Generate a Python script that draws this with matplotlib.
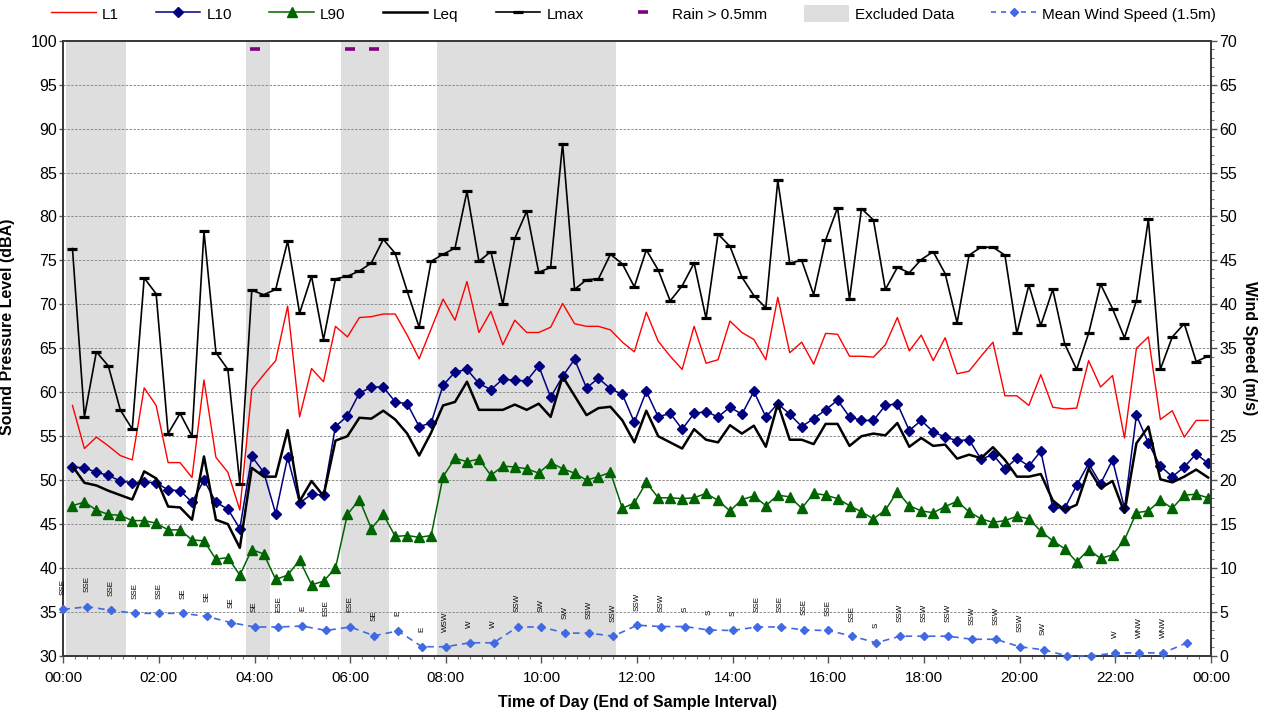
import numpy as np
import matplotlib.pyplot as plt
from matplotlib.ticker import MultipleLocator
from matplotlib.patches import Patch
from matplotlib.lines import Line2D

plt.rcParams['font.family'] = ['Liberation Sans', 'DejaVu Sans']

# 15 minute sound level statistics (dBA), first interval ending 00:11
first_end_min = 11.5
interval_min = 15

L1 = [58.5, 53.6, 54.9, 53.9, 52.8, 52.3, 60.5, 58.5, 52.0, 52.0,
      50.3, 61.4, 52.6, 50.9, 46.6, 60.3, 62.0, 63.6, 69.8, 57.2,
      62.7, 61.2, 67.5, 66.3, 68.5, 68.6, 68.9, 68.9, 66.5, 63.8,
      67.2, 70.6, 68.2, 72.6, 66.8, 69.2, 65.4, 68.2, 66.8, 66.8,
      67.4, 70.1, 67.8, 67.5, 67.5, 67.1, 65.7, 64.6, 69.1, 65.8,
      64.1, 62.6, 67.5, 63.3, 63.7, 68.1, 66.8, 66.0, 63.7, 70.8,
      64.5, 65.7, 63.2, 66.7, 66.6, 64.1, 64.1, 64.0, 65.4, 68.5,
      64.7, 66.5, 63.6, 66.2, 62.1, 62.4, 64.1, 65.7, 59.6, 59.6,
      58.5, 62.0, 58.3, 58.1, 58.2, 63.6, 60.6, 61.9, 54.8, 65.0,
      66.3, 56.9, 57.9, 54.9, 56.8, 56.8]

L10 = [51.5, 51.4, 50.9, 50.55, 49.9, 49.7, 49.8, 49.7, 48.9, 48.8,
       47.5, 50.0, 47.5, 46.7, 44.5, 52.7, 50.9, 46.2, 52.6, 47.4,
       48.4, 48.3, 56.1, 57.3, 59.9, 60.6, 60.6, 58.9, 58.7, 56.1,
       56.5, 60.8, 62.3, 62.6, 61.0, 60.3, 61.5, 61.35, 61.3, 63.0,
       59.45, 61.8, 63.75, 60.5, 61.6, 60.4, 59.75, 56.6, 60.1, 57.2,
       57.6, 55.8, 57.6, 57.8, 57.2, 58.3, 57.5, 60.1, 57.2, 58.7,
       57.5, 56.1, 57.0, 58.0, 59.1, 57.2, 56.8, 56.8, 58.5, 58.7,
       55.65, 56.8, 55.5, 54.9, 54.5, 54.6, 52.4, 52.9, 51.3, 52.5,
       51.6, 53.3, 46.9, 46.8, 49.4, 51.9, 49.6, 52.3, 46.8, 57.4,
       54.2, 51.6, 50.4, 51.5, 53.0, 51.9]

L90 = [47.1, 47.5, 46.6, 46.1, 46.0, 45.4, 45.4, 45.1, 44.35, 44.35,
       43.2, 43.1, 41.0, 41.2, 39.2, 42.1, 41.6, 38.7, 39.2, 40.9,
       38.1, 38.5, 40.0, 46.1, 47.8, 44.5, 46.1, 43.6, 43.7, 43.5,
       43.7, 50.4, 52.5, 52.1, 52.4, 50.55, 51.6, 51.5, 51.3, 50.8,
       52.0, 51.3, 50.8, 50.0, 50.4, 50.9, 46.8, 47.4, 49.75, 48.0,
       48.0, 47.9, 48.0, 48.5, 47.7, 46.5, 47.8, 48.2, 47.1, 48.3,
       48.1, 46.8, 48.5, 48.3, 47.9, 47.1, 46.4, 45.6, 46.6, 48.7,
       47.1, 46.5, 46.3, 47.0, 47.6, 46.4, 45.6, 45.2, 45.4, 45.9,
       45.6, 44.2, 43.1, 42.2, 40.7, 42.1, 41.1, 41.5, 43.2, 46.3,
       46.5, 47.7, 46.8, 48.3, 48.4, 48.0]

Leq = [51.6, 49.7, 49.4, 48.8, 48.3, 47.8, 51.0, 50.2, 47.0, 46.9,
       45.5, 52.7, 45.5, 45.0, 42.3, 51.4, 50.4, 50.4, 55.7, 47.6,
       49.9, 48.2, 54.5, 55.0, 57.1, 57.0, 57.9, 56.9, 55.3, 52.8,
       55.4, 58.5, 58.9, 61.2, 58.0, 58.0, 58.0, 58.6, 58.0, 58.7,
       57.2, 61.8, 59.6, 57.4, 58.2, 58.35, 56.8, 54.3, 57.9, 55.0,
       54.3, 53.6, 55.8, 54.6, 54.3, 56.25, 55.3, 56.2, 53.8, 58.7,
       54.6, 54.6, 54.1, 56.4, 56.4, 53.9, 55.0, 55.3, 55.1, 56.5,
       53.8, 54.8, 53.9, 54.05, 52.45, 52.9, 52.5, 53.75, 52.3, 50.4,
       50.4, 50.7, 47.7, 46.6, 47.2, 51.3, 49.1, 49.9, 46.3, 54.2,
       56.1, 50.1, 49.75, 50.4, 51.2, 50.3]

Lmax = [76.35, 57.2, 64.6, 63.0, 58.0, 55.8, 73.0, 71.2, 55.3, 57.6,
        55.0, 78.3, 64.5, 62.6, 49.6, 71.6, 71.1, 71.7, 77.2, 69.0,
        73.2, 66.0, 72.9, 73.2, 73.8, 74.7, 77.4, 75.8, 71.5, 67.4,
        74.9, 75.7, 76.4, 82.85, 74.9, 76.0, 70.0, 77.5, 80.6, 73.65,
        74.2, 88.3, 71.7, 72.8, 72.9, 75.7, 74.6, 72.0, 76.2, 73.9,
        70.4, 72.1, 74.7, 68.4, 78.0, 76.6, 73.1, 71.0, 69.6, 84.1,
        74.7, 75.0, 71.1, 77.3, 81.0, 70.6, 80.9, 79.6, 71.7, 74.2,
        73.6, 75.1, 76.0, 73.5, 67.9, 75.6, 76.5, 76.5, 75.6, 66.7,
        72.2, 67.6, 71.7, 65.5, 62.6, 66.7, 72.3, 69.5, 66.2, 70.4,
        79.7, 62.6, 66.3, 67.8, 63.5, 64.1]

# intervals flagged as excluded (index into the 15 min series)
excluded_idx = [0, 1, 2, 3, 4, 15, 16, 23, 24, 25, 26] + list(range(31, 46))

# half-hourly met data
wind = [5.3, 5.6, 5.2, 4.85, 4.85, 4.85, 4.5, 3.8, 3.3, 3.3,
        3.4, 2.9, 3.3, 2.3, 2.85, 1.05, 1.05, 1.5, 1.5, 3.3,
        3.3, 2.6, 2.6, 2.25, 3.5, 3.35, 3.35, 2.95, 2.9, 3.3,
        3.3, 2.95, 2.9, 2.25, 1.5, 2.25, 2.25, 2.25, 1.9, 1.9,
        1.05, 0.7, 0.0, 0.0, 0.35, 0.35, 0.35, 1.5]
wind_dir = ['SSE', 'SSE', 'SSE', 'SSE', 'SSE', 'SE', 'SE', 'SE', 'SE', 'ESE',
            'E', 'ESE', 'ESE', 'SE', 'E', 'E', 'WSW', 'W', 'W', 'SSW',
            'SW', 'SW', 'SSW', 'SSW', 'SSW', 'SSW', 'S', 'S', 'S', 'SSE',
            'SSE', 'SSE', 'SSE', 'SSE', 'S', 'SSW', 'SSW', 'SSW', 'SSW', 'SSW',
            'SSW', 'SW', '', '', 'W', 'WNW', 'WNW', '']
rain_hours = [4.0, 6.0, 6.5]

t = (first_end_min + interval_min * np.arange(len(L1))) / 60.0
t_wind = np.arange(len(wind)) * 0.5
interval_h = interval_min / 60.0

fig = plt.figure(figsize=(12.67, 7.11), dpi=100)
ax = fig.add_axes([0.04996, 0.0774, 0.9058, 0.8654])
ax2 = ax.twinx()

# excluded periods as full-height grey columns
ax.bar(t[excluded_idx], 70, bottom=30, width=interval_h, color='#dedede',
       linewidth=0, zorder=0.2)
ax.set_axisbelow(True)
ax.yaxis.grid(True, color='#8c8c8c', linestyle=(0, (2.5, 1.5)), linewidth=0.7)

ax.plot(t, L1, color='#ff0000', lw=1.0, zorder=3)
ax.plot(t, Lmax, color='black', lw=1.2, marker='_', ms=7, mew=2.3, zorder=3)
ax.plot(t, L10, color='#000080', lw=1.1, marker='D', ms=5, zorder=4)
ax.plot(t, L90, color='#006400', lw=1.1, marker='^', ms=7.5, zorder=4)
ax.plot(t, Leq, color='black', lw=1.8, zorder=5)
ax.plot(rain_hours, [99.1] * len(rain_hours), ls='none', marker='_', ms=7,
        mew=2.6, color='#800080', zorder=5)

wind_col = '#4169e1'
ax2.plot(t_wind, wind, color=wind_col, ls='--', dashes=(4, 3), lw=1.2,
         marker='D', ms=4.3, clip_on=False, zorder=5)
for tt, w, d in zip(t_wind, wind, wind_dir):
    if d:
        ax2.annotate(d, (tt, w), xytext=(0, 10.5), textcoords='offset points',
                     rotation=90, ha='center', va='bottom', fontsize=5.8,
                     color='black')

ax.set_xlim(0, 24)
ax.set_ylim(30, 100)
ax2.set_ylim(0, 70)
ax.set_xticks(np.arange(0, 25, 2))
ax.set_xticklabels(['%02d:00' % (h % 24) for h in range(0, 25, 2)])
ax.xaxis.set_minor_locator(MultipleLocator(0.25))
ax.yaxis.set_major_locator(MultipleLocator(5))
ax2.yaxis.set_major_locator(MultipleLocator(5))
ax2.yaxis.set_minor_locator(MultipleLocator(1))

ax.tick_params(axis='x', which='major', length=5, width=1, pad=6,
               labelsize=11, color='#555555')
ax.tick_params(axis='x', which='minor', length=2.5, width=0.8, color='#777777')
ax.tick_params(axis='y', which='major', length=3, width=1, pad=1.5,
               labelsize=11.5, color='#555555')
ax2.tick_params(axis='y', which='major', length=4, width=1, pad=2,
                labelsize=11.5, color='#555555')
ax2.tick_params(axis='y', which='minor', length=2.5, width=0.8, color='#777777')

for a in (ax, ax2):
    for s in a.spines.values():
        s.set_color('#3a3a3a')
        s.set_linewidth(1.3)

ax.set_ylabel('Sound Pressure Level (dBA)', fontsize=11.5, fontweight='bold')
ax.yaxis.set_label_coords(-0.042, 0.535)
ax2.set_ylabel('Wind Speed (m/s)', fontsize=11.5, fontweight='bold',
               rotation=270, va='center')
ax2.yaxis.set_label_coords(1.034, 0.5)
ax.set_xlabel('Time of Day (End of Sample Interval)', fontsize=11.5,
              fontweight='bold')
ax.xaxis.set_label_coords(0.5, -0.063)

handles = [
    Line2D([], [], color='#ff0000', lw=1.0),
    Line2D([], [], color='#000080', lw=1.1, marker='D', ms=5),
    Line2D([], [], color='#006400', lw=1.1, marker='^', ms=7.5),
    Line2D([], [], color='black', lw=1.8),
    Line2D([], [], color='black', lw=1.2, marker='_', ms=7, mew=2.3),
    Line2D([], [], ls='none', marker='_', ms=7, mew=2.6, color='#800080'),
    Patch(facecolor='#dedede', edgecolor='none'),
    Line2D([], [], color=wind_col, ls='--', dashes=(3, 3), lw=1.2,
           marker='D', ms=4.3),
]
labels = ['L1', 'L10', 'L90', 'Leq', 'Lmax', 'Rain > 0.5mm', 'Excluded Data',
          'Mean Wind Speed (1.5m)']
fig.legend(handles, labels, loc='center', bbox_to_anchor=(0.5, 0.981),
           ncol=8, frameon=False, fontsize=11, handlelength=2.9,
           handleheight=1.4, handletextpad=0.4, columnspacing=2.45)

fig.savefig('out.png', dpi=100)
